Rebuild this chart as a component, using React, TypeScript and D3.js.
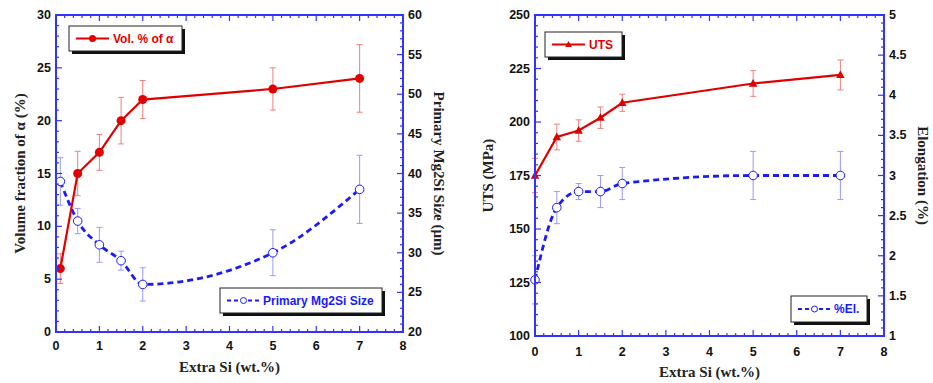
import React from "react";
import * as d3 from "d3";

// ---- Left panel data ----
const siLeft = [0.1, 0.5, 1, 1.5, 2, 5, 7];
const volAlpha = [6, 15, 17, 20, 22, 23, 24];
const volAlphaErr = [1.4, 2.1, 1.7, 2.2, 1.8, 2.0, 3.2];
const mg2siSize = [39, 34, 31, 29, 26, 30, 38];
const mg2siSizeErr = [3.0, 1.6, 2.2, 1.2, 2.1, 2.9, 4.3];

// ---- Right panel data ----
const siRight = [0, 0.5, 1, 1.5, 2, 5, 7];
const uts = [175, 193, 196, 202, 209, 218, 222];
const utsErr = [8, 6, 5, 5, 4, 6, 7];
const elong = [1.7, 2.6, 2.8, 2.8, 2.9, 3.0, 3.0];
const elongErr = [0.3, 0.2, 0.1, 0.2, 0.2, 0.3, 0.3];

const xTicks = [0, 1, 2, 3, 4, 5, 6, 7, 8];
const leftTicks1 = [0, 5, 10, 15, 20, 25, 30];
const rightTicks1 = [20, 25, 30, 35, 40, 45, 50, 55, 60];
const leftTicks2 = [100, 125, 150, 175, 200, 225, 250];
const rightTicks2 = [1, 1.5, 2, 2.5, 3, 3.5, 4, 4.5, 5];

const RED = "#e00000";
const BLUE = "#1a1aff";
const AXIS = "#3333ff";
const TICKFONT = "'Liberation Sans', Arial, sans-serif";
const LABELFONT = "'Liberation Serif', 'Times New Roman', serif";

type PanelProps = {
  x0: number; x1: number; yTop: number; yBot: number;
  xs: number[];
  redY: number[]; redErr: number[];
  blueY: number[]; blueErr: number[];
  leftDomain: [number, number]; rightDomain: [number, number];
  leftTicks: number[]; rightTicks: number[];
  leftMinor: number; rightMinor: number;
  leftLabel: string; rightLabel: string;
  leftLabelX: number; rightLabelX: number; xLabelY: number; xTickY: number;
  redMarker: "circle" | "triangle";
  redLegend: string; blueLegend: string;
  redLegendBox: [number, number, number, number];
  blueLegendBox: [number, number, number, number];
};

function Panel(p: PanelProps) {
  const x = d3.scaleLinear().domain([0, 8]).range([p.x0, p.x1]);
  const yl = d3.scaleLinear().domain(p.leftDomain).range([p.yBot, p.yTop]);
  const yr = d3.scaleLinear().domain(p.rightDomain).range([p.yBot, p.yTop]);

  const redLine = d3.line<number>().x((_, i) => x(p.xs[i])).y((d) => yl(d)).curve(d3.curveLinear);
  const blueLine = d3.line<number>().x((_, i) => x(p.xs[i])).y((d) => yr(d)).curve(d3.curveMonotoneX);

  const xMinor = d3.range(0, 8.0001, 0.2);
  const lMinor = d3.range(p.leftDomain[0], p.leftDomain[1] + 1e-6, p.leftMinor);
  const rMinor = d3.range(p.rightDomain[0], p.rightDomain[1] + 1e-6, p.rightMinor);
  const isMajor = (v: number, ticks: number[]) => ticks.some((t) => Math.abs(t - v) < 1e-6);

  const cx = (p.x0 + p.x1) / 2;
  const cy = (p.yTop + p.yBot) / 2;

  const cap = 3;
  const [rx, ry, rw, rh] = p.redLegendBox;
  const [bx, by, bw, bh] = p.blueLegendBox;

  const tri = (px: number, py: number, s: number) =>
    `M${px},${py - s}L${px + s * 0.95},${py + s * 0.7}L${px - s * 0.95},${py + s * 0.7}Z`;

  return (
    <g>
      {p.redY.map((v, i) => (
        <g key={"re" + i} stroke="#f08080" strokeWidth={1}>
          <line x1={x(p.xs[i])} x2={x(p.xs[i])} y1={yl(v - p.redErr[i])} y2={yl(v + p.redErr[i])} />
          <line x1={x(p.xs[i]) - cap} x2={x(p.xs[i]) + cap} y1={yl(v - p.redErr[i])} y2={yl(v - p.redErr[i])} />
          <line x1={x(p.xs[i]) - cap} x2={x(p.xs[i]) + cap} y1={yl(v + p.redErr[i])} y2={yl(v + p.redErr[i])} />
        </g>
      ))}
      {p.blueY.map((v, i) => (
        <g key={"be" + i} stroke="#9a9aff" strokeWidth={1}>
          <line x1={x(p.xs[i])} x2={x(p.xs[i])} y1={yr(v - p.blueErr[i])} y2={yr(v + p.blueErr[i])} />
          <line x1={x(p.xs[i]) - cap} x2={x(p.xs[i]) + cap} y1={yr(v - p.blueErr[i])} y2={yr(v - p.blueErr[i])} />
          <line x1={x(p.xs[i]) - cap} x2={x(p.xs[i]) + cap} y1={yr(v + p.blueErr[i])} y2={yr(v + p.blueErr[i])} />
        </g>
      ))}
      <path d={blueLine(p.blueY) || ""} fill="none" stroke={BLUE} strokeWidth={2.8} strokeDasharray="6,4" />
      <path d={redLine(p.redY) || ""} fill="none" stroke={RED} strokeWidth={2.2} />
      {p.blueY.map((v, i) => (
        <circle key={"bm" + i} cx={x(p.xs[i])} cy={yr(v)} r={4.3} fill="white" stroke={BLUE} strokeWidth={1} />
      ))}
      {p.redY.map((v, i) =>
        p.redMarker === "circle" ? (
          <circle key={"rm" + i} cx={x(p.xs[i])} cy={yl(v)} r={4.5} fill={RED} />
        ) : (
          <path key={"rm" + i} d={tri(x(p.xs[i]), yl(v), 4.5)} fill={RED} />
        )
      )}

      <rect x={p.x0} y={p.yTop} width={p.x1 - p.x0} height={p.yBot - p.yTop} fill="none" stroke={AXIS} strokeWidth={2} />
      {xMinor.map((v, i) => {
        const len = isMajor(v, xTicks) ? 6 : 3;
        return (
          <g key={"xt" + i} stroke={AXIS} strokeWidth={1.2}>
            <line x1={x(v)} x2={x(v)} y1={p.yBot} y2={p.yBot - len} />
            <line x1={x(v)} x2={x(v)} y1={p.yTop} y2={p.yTop + len} />
          </g>
        );
      })}
      {lMinor.map((v, i) => {
        const len = isMajor(v, p.leftTicks) ? 6 : 3;
        return <line key={"lt" + i} x1={p.x0} x2={p.x0 + len} y1={yl(v)} y2={yl(v)} stroke={AXIS} strokeWidth={1.2} />;
      })}
      {rMinor.map((v, i) => {
        const len = isMajor(v, p.rightTicks) ? 6 : 3;
        return <line key={"rt" + i} x1={p.x1} x2={p.x1 - len} y1={yr(v)} y2={yr(v)} stroke={AXIS} strokeWidth={1.2} />;
      })}

      <g fontFamily={TICKFONT} fontWeight="bold" fontSize={12.5} fill="#111">
        {xTicks.map((v) => (
          <text key={"xl" + v} x={x(v)} y={p.xTickY} textAnchor="middle">{v}</text>
        ))}
        {p.leftTicks.map((v) => (
          <text key={"ll" + v} x={p.x0 - 5} y={yl(v) + 4} textAnchor="end">{v}</text>
        ))}
        {p.rightTicks.map((v) => (
          <text key={"rl" + v} x={p.x1 + 5} y={yr(v) + 4} textAnchor="start">{v}</text>
        ))}
      </g>

      <g fontFamily={LABELFONT} fontWeight="bold" fontSize={15} fill="#222">
        <text x={cx} y={p.xLabelY} textAnchor="middle">Extra Si (wt.%)</text>
        <text transform={`translate(${p.leftLabelX},${cy}) rotate(-90)`} textAnchor="middle">{p.leftLabel}</text>
        <text transform={`translate(${p.rightLabelX},${cy}) rotate(90)`} textAnchor="middle">{p.rightLabel}</text>
      </g>

      <rect x={rx + 3} y={ry + 3} width={rw} height={rh} fill="#111" />
      <rect x={rx} y={ry} width={rw} height={rh} fill="white" stroke="#222" strokeWidth={1} />
      <line x1={rx + 7} x2={rx + 40} y1={ry + rh / 2} y2={ry + rh / 2} stroke={RED} strokeWidth={2} />
      {p.redMarker === "circle" ? (
        <circle cx={rx + 23.5} cy={ry + rh / 2} r={3.5} fill={RED} />
      ) : (
        <path d={tri(rx + 23.5, ry + rh / 2, 3.5)} fill={RED} />
      )}
      <text x={rx + 44} y={ry + rh / 2 + 4} fontFamily={TICKFONT} fontWeight="bold" fontSize={12} fill={RED}>{p.redLegend}</text>

      <rect x={bx + 3} y={by + 3} width={bw} height={bh} fill="#111" />
      <rect x={bx} y={by} width={bw} height={bh} fill="white" stroke="#222" strokeWidth={1} />
      <line x1={bx + 7} x2={bx + 40} y1={by + bh / 2} y2={by + bh / 2} stroke={BLUE} strokeWidth={2} strokeDasharray="4,3" />
      <circle cx={bx + 23.5} cy={by + bh / 2} r={3} fill="white" stroke={BLUE} strokeWidth={1} />
      <text x={bx + 43} y={by + bh / 2 + 4} fontFamily={TICKFONT} fontWeight="bold" fontSize={12} fill={BLUE}>{p.blueLegend}</text>
    </g>
  );
}

export default function App() {
  return (
    <svg width={933} height={383} style={{ display: "block", position: "absolute", left: 0, top: 0, background: "white" }}>
      <rect x={0} y={0} width={933} height={383} fill="white" />
      <Panel
        x0={56} x1={403} yTop={15} yBot={332}
        xs={siLeft}
        redY={volAlpha} redErr={volAlphaErr}
        blueY={mg2siSize} blueErr={mg2siSizeErr}
        leftDomain={[0, 30]} rightDomain={[20, 60]}
        leftTicks={leftTicks1} rightTicks={rightTicks1}
        leftMinor={1} rightMinor={1}
        leftLabel="Volume fraction of α (%)" rightLabel="Primary Mg2Si Size (μm)"
        leftLabelX={25} rightLabelX={434} xLabelY={372} xTickY={350}
        redMarker="circle"
        redLegend="Vol. % of α" blueLegend="Primary Mg2Si Size"
        redLegendBox={[69, 26, 113, 25]}
        blueLegendBox={[220, 288, 162, 25]}
      />
      <Panel
        x0={535} x1={884} yTop={15} yBot={336}
        xs={siRight}
        redY={uts} redErr={utsErr}
        blueY={elong} blueErr={elongErr}
        leftDomain={[100, 250]} rightDomain={[1, 5]}
        leftTicks={leftTicks2} rightTicks={rightTicks2}
        leftMinor={5} rightMinor={0.1}
        leftLabel="UTS (MPa)" rightLabel="Elongation (%)"
        leftLabelX={493} rightLabelX={918} xLabelY={377} xTickY={356}
        redMarker="triangle"
        redLegend="UTS" blueLegend="%El."
        redLegendBox={[545, 32, 77, 25]}
        blueLegendBox={[791, 296, 76, 26]}
      />
    </svg>
  );
}
